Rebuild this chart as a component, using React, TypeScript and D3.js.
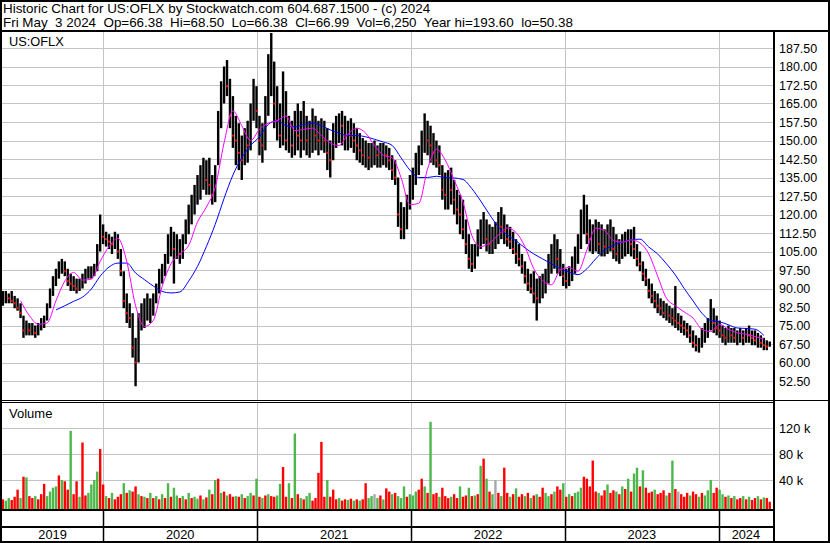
import React from 'react';
import * as d3 from 'd3';

// weekly price data (first week ends Fri May 10 2019, last Fri May 3 2024)
const highs = [
  89, 89, 88, 89, 87, 86, 84, 79, 77, 76,
  76, 75, 76, 78, 79, 84, 90, 95, 98, 101,
  102, 101, 98, 96, 95, 94, 94, 96, 98, 99,
  99, 100, 108, 120, 116, 113, 112, 111, 113, 112,
  106, 97, 88, 84, 80, 70, 80, 84, 86, 88,
  86, 88, 92, 98, 100, 104, 112, 115, 113, 112,
  110, 112, 118, 124, 128, 132, 136, 140, 143, 142,
  143, 136, 140, 162, 174, 180, 182.6, 175, 168, 160,
  157, 152, 155, 158, 165, 175, 172, 160, 157, 168,
  185, 193.6, 182, 172, 165, 178, 170, 160, 158, 162,
  165, 162, 166, 160, 158, 163, 160, 158, 159, 158,
  155, 150, 157, 160, 161, 162, 160, 158, 159, 157,
  155, 153, 151, 150, 149, 149, 150, 148, 149, 149,
  148, 147, 144, 142, 135, 125, 123, 128, 136, 139,
  145, 148, 154, 161, 158, 156, 153, 150, 148, 140,
  137, 138, 139, 134, 130, 128, 126, 118, 112, 108,
  108, 114, 118, 121, 118, 116, 115, 117, 121, 123,
  120, 116, 115, 113, 110, 108, 104, 101, 98, 96,
  97, 94, 95, 96, 98, 104, 108, 112, 110, 106,
  100, 98, 99, 103, 107, 112, 122, 128, 124, 118,
  116, 118, 117, 116, 114, 116, 118, 115, 112, 110,
  112, 113, 114, 114, 115, 108, 105, 101, 98, 94,
  92, 89, 88, 86, 85, 84, 83, 82, 91, 80,
  79, 77, 76, 75, 73, 71, 70, 74, 76, 78,
  85.7, 82, 79, 77, 75, 74, 75, 74, 74, 73,
  74, 73, 74, 75, 73, 73, 72, 71, 70, 69, 68.5,
];
const lows = [
  83, 84, 84, 84, 82, 81, 78, 70, 71, 71,
  71, 70, 71, 73, 74, 77, 82, 87, 91, 94,
  96, 95, 91, 89, 89, 88, 89, 90, 92, 94,
  94, 95, 97, 105, 108, 107, 106, 104, 106, 102,
  95, 82, 76, 74, 62, 50.38, 60, 73, 74, 77,
  76, 79, 84, 88, 92, 95, 100, 103, 92, 102,
  100, 102, 108, 112, 116, 120, 124, 126, 130, 128,
  128, 124, 125, 140, 155, 165, 168, 155, 147, 140,
  138, 134, 140, 141, 146, 158, 155, 144, 141, 146,
  160, 168, 155, 150, 147, 148, 146, 145, 143, 144,
  146, 143, 146, 144, 143, 145, 146, 144, 146, 145,
  138, 135, 142, 147, 149, 148, 146, 146, 147, 145,
  142, 141, 140, 139, 138, 139, 140, 139, 139, 140,
  139, 138, 134, 132, 115, 110, 110, 114, 122, 126,
  132, 136, 140, 145, 144, 141, 140, 139, 136, 126,
  122, 122, 124, 120, 116, 112, 110, 104, 98, 96.7,
  98, 103, 106, 108, 105, 104, 104, 106, 108, 110,
  108, 107, 106, 104, 100, 99, 96, 92, 89, 88,
  84, 77, 84, 86, 88, 92, 96, 98, 96, 95,
  91, 90, 91, 93, 96, 100, 106, 112, 108, 105,
  104, 105, 104, 103, 103, 104, 105, 102, 101, 100,
  102, 103, 104, 103, 102, 99, 97, 93, 91, 86,
  84, 82, 80, 79, 78, 77, 76, 75, 74, 73,
  72, 71, 70, 68, 66, 64.5, 64, 66, 68, 70,
  73, 72, 71, 70, 68, 67, 68, 68, 68, 67,
  68, 67, 68, 68, 67, 67, 66, 66, 65, 65, 66.38,
];
const closes = [
  86, 87, 86, 85, 84, 82, 80, 73, 74, 73,
  73, 72, 74, 76, 78, 83, 88, 93, 96, 98,
  99, 97, 93, 92, 91, 90, 92, 93, 96, 97,
  97, 98, 106, 114, 111, 110, 109, 108, 110, 105,
  97, 85, 80, 78, 66, 60, 76, 78, 80, 82,
  82, 85, 90, 95, 97, 102, 109, 110, 106, 108,
  104, 110, 115, 120, 124, 128, 131, 136, 138, 134,
  132, 128, 135, 158, 170, 176, 172, 160, 152, 150,
  145, 142, 150, 148, 160, 168, 162, 150, 148, 160,
  178, 180, 165, 158, 152, 155, 150, 152, 148, 155,
  152, 150, 155, 150, 152, 155, 152, 150, 154, 150,
  145, 142, 152, 155, 157, 156, 152, 154, 152, 150,
  148, 146, 144, 145, 143, 145, 146, 144, 145, 146,
  144, 142, 138, 135, 120, 114, 116, 124, 130, 134,
  140, 144, 150, 152, 150, 148, 145, 142, 140, 130,
  128, 132, 130, 126, 122, 120, 114, 108, 102, 100,
  104, 110, 112, 115, 110, 108, 110, 112, 116, 115,
  113, 110, 109, 106, 104, 102, 99, 95, 92, 90,
  88, 86, 90, 92, 94, 100, 104, 106, 102, 98,
  95, 93, 96, 98, 102, 108, 118, 120, 112, 110,
  110, 112, 108, 110, 107, 110, 112, 106, 104, 104,
  108, 110, 110, 108, 106, 102, 100, 96, 94, 89,
  87, 85, 83, 82, 80, 80, 79, 78, 77, 76,
  75, 74, 73, 71, 68, 67, 68, 71, 72, 75,
  80, 76, 74, 73, 71, 70, 72, 71, 70, 70,
  71, 70, 72, 71, 70, 69, 69, 68, 67, 66.5, 66.99,
];

// volume in thousands, one bar per week; r = down, g = up, n = unchanged
const volumes = [
  10, 8, 12, 9, 14, 25, 12, 45, 44, 15,
  12, 15, 10, 18, 34, 15, 22, 28, 30, 47,
  40, 38, 25, 116, 18, 38, 14, 98, 16, 20,
  33, 40, 53, 88, 33, 15, 12, 20, 10, 14,
  18, 35, 20, 24, 22, 30, 18, 15, 14, 12,
  20, 12, 15, 10, 18, 12, 35, 14, 28, 16,
  12, 15, 10, 20, 12, 14, 11, 16, 10, 13,
  25, 18, 40, 42, 20, 22, 16, 18, 14, 15,
  14, 18, 12, 15, 20, 16, 42, 14, 12, 16,
  18, 15, 14, 16, 34, 60, 14, 35, 12, 112,
  18, 12, 10, 15, 20, 8, 12, 51, 99, 14,
  40, 14, 25, 10, 12, 8, 10, 9, 11, 8,
  10, 8, 10, 35, 12, 15, 18, 12, 16, 10,
  27, 22, 18, 20, 15, 12, 30, 14, 18, 16,
  22, 25, 42, 30, 20, 130, 18, 20, 14, 28,
  15, 12, 14, 18, 12, 30, 14, 16, 28, 15,
  16, 18, 62, 73, 42, 22, 18, 40, 20, 15,
  59, 20, 14, 18, 27, 14, 18, 15, 20, 12,
  16, 18, 14, 28, 20, 15, 18, 22, 30, 25,
  35, 14, 18, 15, 20, 22, 28, 45, 42, 30,
  70, 22, 20, 16, 24, 33, 20, 24, 22, 18,
  30, 26, 42, 22, 50, 59, 30, 55, 28, 20,
  22, 25, 18, 20, 24, 16, 20, 70, 26, 22,
  18, 14, 20, 16, 22, 18, 14, 20, 16, 24,
  40, 20, 28, 25, 18, 14, 16, 12, 15, 10,
  12, 15, 10, 14, 9, 12, 15, 10, 13, 12, 6.25,
];
const volumeDir =
  'rggrrrgrgr' + 'rgrrrggggr' + 'grrgrrgrrg' + 'gggrrgrgrr' + 'rgrgrrgrgr' +
  'grgrgrgrgg' + 'rgrgrggrgr' + 'grgrgrgrrg' + 'rgrggrgrgr' + 'grrggrrgrg' +
  'rgrggrrrrr' + 'grrrgrrgrg' + 'rgrrggngrg' + 'rrgrgggrgg' + 'grrgrgrrgr' +
  'rrgrrgrrgr' + 'grgrgrgnrg' + 'rrgrgrrgrg' + 'rgrrggrgrr' + 'grgrgggrrr' +
  'rrgrrgrrgr' + 'grgrggrgrr' + 'rgrrrgrgrn' + 'rrrgrrgrgg' + 'grrggrgrgr' +
  'rgrgrrgrgrr';

// moving averages, every 3rd week
const maStep = 3;
const maFastStart = 6;
const maFast = [
  85, 79, 75.5, 76, 85, 93, 96.5, 93.4, 93.8, 101,
  107, 110.3, 101, 83, 74.6, 77, 90.8, 100, 104, 107.5,
  117, 123, 131, 149, 162, 156, 150, 154.5, 157, 158,
  160, 154, 154.5, 155, 152, 149, 148, 152.5, 155, 153,
  148, 144, 143, 135, 124, 124.5, 138.5, 146.5, 142, 134,
  125, 111.5, 107, 108.4, 111.7, 114.5, 112.7, 107, 98, 93.2,
  91.5, 97.5, 98.5, 97, 105.6, 114.5, 113.5, 109.5, 108.8, 109.7,
  108.5, 104, 95, 86, 83, 80.5, 78, 73.5, 72.5, 75.5,
  73.5, 72, 71.5, 70.5, 69.5,
];
const maSlowStart = 18;
const maSlow = [
  81.3, 83, 84.8, 86.5, 89.8, 95, 98.7, 100.3, 100.3, 96.3,
  93.6, 91, 88.8, 88.2, 88.6, 93, 99, 107, 116, 126.5,
  136, 143, 148, 151.5, 156.5, 158, 156, 155.5, 156.5, 157,
  156, 154.3, 153, 152, 152, 151.5, 150.5, 149.4, 148, 143,
  138, 135, 135, 135.5, 135, 134.8, 134.2, 130.5, 125.5, 120,
  115, 111.7, 109.3, 106.5, 104, 102, 100, 98, 96.6, 95.6,
  98, 102, 105.6, 107.5, 108.8, 109.7, 110, 106.8, 104, 100,
  95.5, 90, 85, 80, 77, 76.5, 75.3, 74, 73.8, 73.5,
  71,
];

const priceTicks = [52.5, 60, 67.5, 75, 82.5, 90, 97.5, 105, 112.5, 120, 127.5, 135, 142.5, 150, 157.5, 165, 172.5, 180, 187.5];
const volumeTicks = [40, 80, 120];
const years = [2019, 2020, 2021, 2022, 2023, 2024];

const titleLine1 = 'Historic Chart for US:OFLX by Stockwatch.com 604.687.1500 - (c) 2024';
const titleLine2 = 'Fri May  3 2024  Op=66.38  Hi=68.50  Lo=66.38  Cl=66.99  Vol=6,250  Year hi=193.60  lo=50.38';

const W = 830;
const H = 543;
const FONT = '"Liberation Sans", Arial, sans-serif';
const GRID = '#c4c4c4';
const plotLeft = 2;
const plotRight = 773;
const priceTop = 32;
const priceBottom = 400;
const volTop = 403;
const volBottom = 509;

const firstWeek = new Date(2019, 4, 8);
const weekDate = (i: number) => d3.timeWeek.offset(firstWeek, i);

export default function App() {
  const x = d3.scaleTime()
    .domain([new Date(2019, 4, 6), new Date(2024, 4, 4)])
    .range([2, 771]);
  const y = d3.scaleLinear().domain([52.5, 187.5]).range([381, 48]);
  const yv = d3.scaleLinear().domain([0, 120]).range([505.8, 428.3]);

  const yearEdges = years.map(yr => Math.max(plotLeft, x(new Date(yr, 0, 1))));
  const yearEnds = years.map((yr, k) => (k < years.length - 1 ? yearEdges[k + 1] : plotRight));
  const gridYears = yearEdges.slice(1);

  const lineFast = d3.line<number>()
    .x((_, k) => x(weekDate(maFastStart + k * maStep)))
    .y(v => y(v))
    .curve(d3.curveMonotoneX);
  const lineSlow = d3.line<number>()
    .x((_, k) => x(weekDate(maSlowStart + k * maStep)))
    .y(v => y(v))
    .curve(d3.curveMonotoneX);

  const volColor = (c: string) => (c === 'g' ? '#4cb84c' : c === 'n' ? '#a8a8a8' : '#ff0000');

  return (
    <svg width={W} height={H} style={{ position: 'fixed', left: 0, top: 0, background: '#fff' }}
      fontFamily={FONT}>
      <rect x={0} y={0} width={W} height={H} fill="#fff" />
      <defs>
        <clipPath id="price-clip">
          <rect x={plotLeft} y={priceTop} width={plotRight - plotLeft} height={priceBottom - priceTop} />
        </clipPath>
      </defs>

      {/* header */}
      <text x={3} y={13} fontSize={13.4} style={{ whiteSpace: 'pre' }}>{titleLine1}</text>
      <text x={3} y={27} fontSize={13.4} style={{ whiteSpace: 'pre' }}>{titleLine2}</text>

      {/* price grid */}
      {priceTicks.map(t => (
        <line key={'pg' + t} x1={plotLeft} x2={plotRight} y1={Math.round(y(t)) + 0.5} y2={Math.round(y(t)) + 0.5}
          stroke={GRID} />
      ))}
      {gridYears.map((gx, k) => (
        <g key={'vg' + k}>
          <line x1={Math.round(gx) + 0.5} x2={Math.round(gx) + 0.5} y1={priceTop} y2={priceBottom} stroke={GRID} />
          <line x1={Math.round(gx) + 0.5} x2={Math.round(gx) + 0.5} y1={volTop} y2={volBottom} stroke={GRID} />
        </g>
      ))}
      {volumeTicks.map(t => (
        <line key={'vt' + t} x1={plotLeft} x2={plotRight} y1={Math.round(yv(t)) + 0.5} y2={Math.round(yv(t)) + 0.5}
          stroke={GRID} />
      ))}

      {/* price bars */}
      <g clipPath="url(#price-clip)">
        {highs.map((h, i) => {
          const cx = x(weekDate(i));
          return (
            <line key={'b' + i} x1={cx} x2={cx} y1={y(h)} y2={y(lows[i])} stroke="#000" strokeWidth={2.4} />
          );
        })}
        {closes.map((c, i) => (i > 0 && c < closes[i - 1] ? (
          <rect key={'c' + i} x={x(weekDate(i)) - 1} y={y(c) - 1} width={2} height={2} fill="#ff0000" />
        ) : null))}
        <path d={lineSlow(maSlow) ?? ''} fill="none" stroke="#0000ff" strokeWidth={1} />
        <path d={lineFast(maFast) ?? ''} fill="none" stroke="#ff00ff" strokeWidth={1} />
      </g>

      {/* volume bars */}
      {volumes.map((v, i) => {
        const cx = x(weekDate(i));
        const top = yv(v);
        return (
          <rect key={'v' + i} x={cx - 1.2} y={top} width={2.4} height={volBottom - top}
            fill={volColor(volumeDir[i])} />
        );
      })}

      <text x={9} y={46} fontSize={12.8}>US:OFLX</text>
      <text x={9} y={418} fontSize={13}>Volume</text>

      {/* frame lines */}
      <line x1={0} x2={W} y1={31} y2={31} stroke="#000" strokeWidth={2} />
      <line x1={0} x2={W} y1={400.5} y2={400.5} stroke="#000" strokeWidth={1} />
      <line x1={0} x2={774} y1={402.5} y2={402.5} stroke="#000" strokeWidth={1} />
      <line x1={0} x2={774} y1={510} y2={510} stroke="#000" strokeWidth={2} />
      <line x1={0} x2={774} y1={527} y2={527} stroke="#000" strokeWidth={2} />
      <line x1={774} x2={774} y1={31} y2={H} stroke="#000" strokeWidth={2} />
      {gridYears.map((gx, k) => (
        <line key={'yl' + k} x1={Math.round(gx) + 0.5} x2={Math.round(gx) + 0.5} y1={510} y2={542}
          stroke="#000" strokeWidth={1.5} />
      ))}
      <rect x={1} y={1} width={W - 2} height={H - 2} fill="none" stroke="#000" strokeWidth={2} />

      {/* right axis labels */}
      {priceTicks.map(t => (
        <text key={'pl' + t} x={779} y={y(t)} dy="0.36em" fontSize={12.5}>{t.toFixed(2)}</text>
      ))}
      {volumeTicks.map(t => (
        <text key={'vl' + t} x={779} y={yv(t)} dy="0.36em" fontSize={12.8}>{t + ' k'}</text>
      ))}

      {/* year labels */}
      {years.map((yr, k) => (
        <text key={'yr' + yr} x={(yearEdges[k] + yearEnds[k]) / 2} y={539} fontSize={12.8} textAnchor="middle">
          {yr}
        </text>
      ))}
    </svg>
  );
}
